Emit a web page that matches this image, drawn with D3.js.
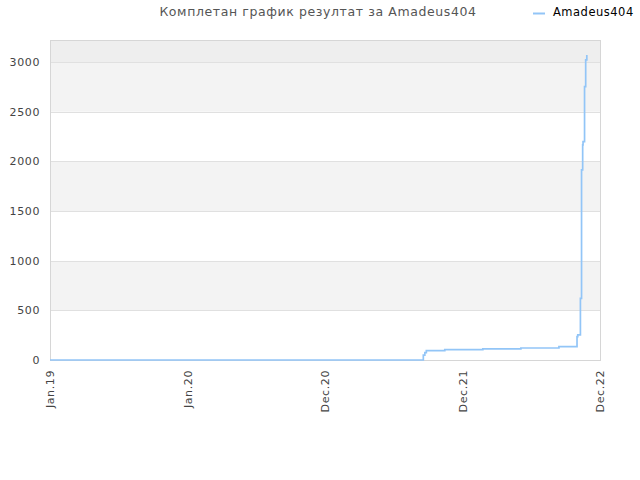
<!DOCTYPE html>
<html>
<head>
<meta charset="utf-8">
<script src="https://cdn.jsdelivr.net/npm/d3@7"></script>
<style>
  body { margin: 0; background: #fff; }
  text { font-family: "DejaVu Sans", sans-serif; }
</style>
</head>
<body>
<div id="vis-container"></div>
<script>
// data
var player = "Amadeus404";
var tickDates = ["2019-01-01", "2020-01-01", "2020-12-01", "2021-12-01", "2022-12-01"];
var tickLabels = ["Jan.19", "Jan.20", "Dec.20", "Dec.21", "Dec.22"];
var yTicks = [0, 500, 1000, 1500, 2000, 2500, 3000];
var dates = ["2019-01-01", "2021-08-18", "2021-08-19", "2021-08-23", "2021-08-27", "2021-10-15",
             "2022-01-24", "2022-05-05", "2022-08-14", "2022-10-01", "2022-10-03", "2022-10-10",
             "2022-10-13", "2022-10-16", "2022-10-17", "2022-10-21", "2022-10-24", "2022-10-27"];
var scores = [0, 0, 50, 75, 94, 104,
              111, 121, 134, 235, 252, 621,
              1913, 2165, 2198, 2752, 3020, 3070];

var parse = d3.timeParse("%Y-%m-%d");
var margin = { top: 40, right: 40, bottom: 120, left: 50 },
    width = 640 - margin.left - margin.right,
    height = 480 - margin.top - margin.bottom;

var svg = d3.select("#vis-container").append("svg")
    .attr("width", 640).attr("height", 480);

// title + legend
svg.append("text")
    .attr("x", 318).attr("y", 16)
    .attr("text-anchor", "middle")
    .style("font-size", "12.5px").style("fill", "#555").style("letter-spacing", "0.6px")
    .text("Комплетан график резултат за " + player);
svg.append("line")
    .attr("x1", 533).attr("x2", 545).attr("y1", 13.5).attr("y2", 13.5)
    .style("stroke", "#92c5f7").style("stroke-width", 2);
svg.append("text")
    .attr("x", 553).attr("y", 16)
    .style("font-size", "11.5px").style("fill", "#000").style("letter-spacing", "0.5px")
    .text(player);

var canvas = svg.append("g")
    .attr("transform", "translate(" + margin.left + "," + margin.top + ")");

// ticks are evenly spaced even though the months are not
var xScale = d3.scaleTime()
    .domain(tickDates.map(parse))
    .range(tickDates.map(function(d, i) { return i * width / (tickDates.length - 1); }));

var yScale = d3.scaleLinear()
    .domain([0, 3221])
    .range([height, 0]);

// alternating bands
for (var i = 0; i < yTicks.length; i++) {
  var lo = yTicks[i], hi = i + 1 < yTicks.length ? yTicks[i + 1] : yScale.domain()[1];
  var fill = i == yTicks.length - 1 ? "#eeeeee" : (i % 2 == 1 ? "#f3f3f3" : "#ffffff");
  canvas.append("rect")
      .attr("x", 0).attr("width", width)
      .attr("y", yScale(hi)).attr("height", yScale(lo) - yScale(hi))
      .style("fill", fill);
}

canvas.selectAll(".grid")
    .data(yTicks.slice(1))
    .enter().append("line")
    .attr("class", "grid")
    .attr("x1", 0).attr("x2", width)
    .attr("y1", function(d) { return Math.round(yScale(d)) + 0.5; })
    .attr("y2", function(d) { return Math.round(yScale(d)) + 0.5; })
    .style("stroke", "#e0e0e0");

canvas.append("rect")
    .attr("x", 0.5).attr("y", 0.5)
    .attr("width", width).attr("height", height)
    .style("fill", "none").style("stroke", "#d6d6d6");

// y axis labels
var yAxis = d3.axisLeft(yScale).tickValues(yTicks).tickFormat(d3.format("d")).tickSize(0).tickPadding(10);
var yg = canvas.append("g").call(yAxis);
yg.select(".domain").remove();
yg.selectAll("text").style("font-size", "11px").style("fill", "#444").style("letter-spacing", "0.6px")
    .style("font-family", "DejaVu Sans, sans-serif");

// x axis labels, rotated
var xAxis = d3.axisBottom(xScale)
    .tickValues(tickDates.map(parse))
    .tickFormat(function(d, i) { return tickLabels[i]; })
    .tickSize(0);
var xg = canvas.append("g")
    .attr("transform", "translate(0," + height + ")")
    .call(xAxis);
xg.select(".domain").remove();
xg.selectAll("text")
    .attr("transform", "rotate(-90)")
    .attr("x", -10).attr("y", 0).attr("dy", "0.35em")
    .style("text-anchor", "end")
    .style("font-size", "11px").style("fill", "#444").style("letter-spacing", "0.6px")
    .style("font-family", "DejaVu Sans, sans-serif");

// score line
var line = d3.line()
    .x(function(d, i) { return xScale(parse(dates[i])); })
    .y(function(d) { return yScale(d); })
    .curve(d3.curveStepAfter);

canvas.append("path")
    .datum(scores)
    .attr("d", line)
    .style("fill", "none")
    .style("stroke", "#92c5f7")
    .style("stroke-width", 1.7);
</script>
</body>
</html>
